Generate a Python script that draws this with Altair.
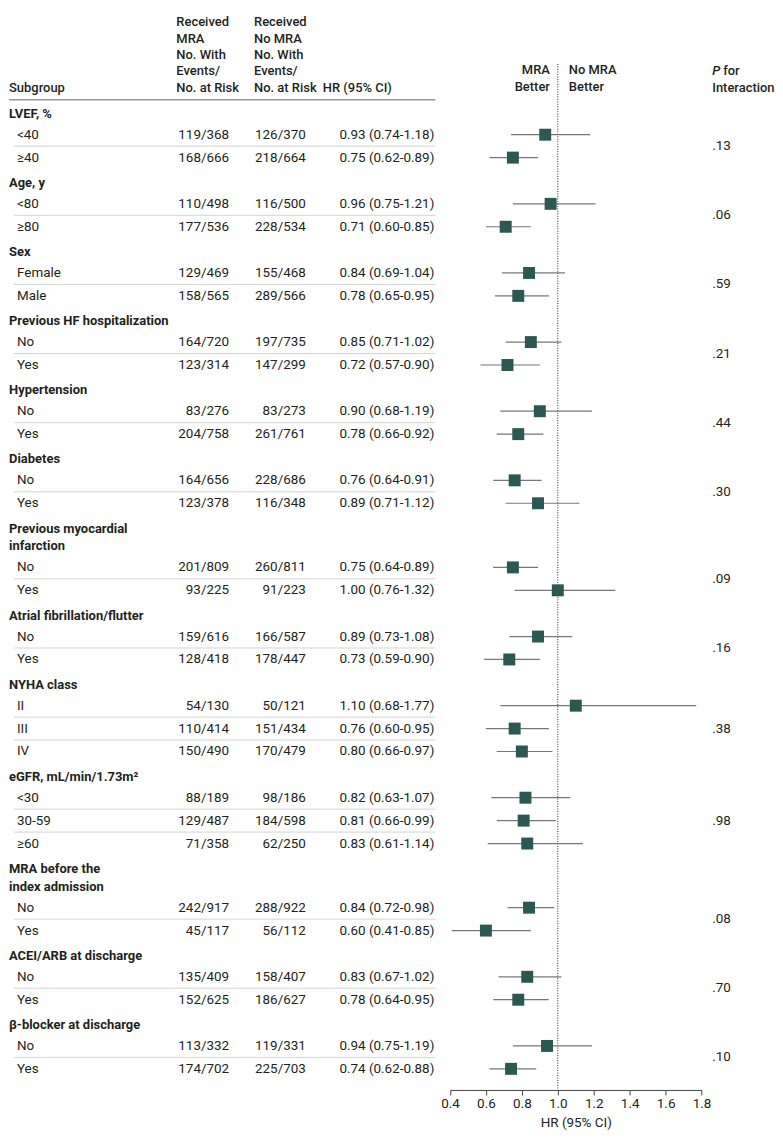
import altair as alt
import pandas as pd

# ---------------- data ----------------
groups = ["LVEF, %", "Age, y", "Sex", "Previous HF hospitalization", "Hypertension", "Diabetes",
          "Previous myocardial\ninfarction", "Atrial fibrillation/flutter", "NYHA class",
          "eGFR, mL/min/1.73m²", "MRA before the\nindex admission", "ACEI/ARB at discharge",
          "β-blocker at discharge"]
p_values = [".13", ".06", ".59", ".21", ".44", ".30", ".09", ".16", ".38", ".98", ".08", ".70", ".10"]
sub_labels = [["<40", "≥40"], ["<80", "≥80"], ["Female", "Male"], ["No", "Yes"], ["No", "Yes"],
              ["No", "Yes"], ["No", "Yes"], ["No", "Yes"], ["II", "III", "IV"],
              ["<30", "30-59", "≥60"], ["No", "Yes"], ["No", "Yes"], ["No", "Yes"]]
mra_events = [119, 168, 110, 177, 129, 158, 164, 123, 83, 204, 164, 123, 201, 93, 159, 128,
              54, 110, 150, 88, 129, 71, 242, 45, 135, 152, 113, 174]
mra_risk = [368, 666, 498, 536, 469, 565, 720, 314, 276, 758, 656, 378, 809, 225, 616, 418,
            130, 414, 490, 189, 487, 358, 917, 117, 409, 625, 332, 702]
nomra_events = [126, 218, 116, 228, 155, 289, 197, 147, 83, 261, 228, 116, 260, 91, 166, 178,
                50, 151, 170, 98, 184, 62, 288, 56, 158, 186, 119, 225]
nomra_risk = [370, 664, 500, 534, 468, 566, 735, 299, 273, 761, 686, 348, 811, 223, 587, 447,
              121, 434, 479, 186, 598, 250, 922, 112, 407, 627, 331, 703]
hr = [0.93, 0.75, 0.96, 0.71, 0.84, 0.78, 0.85, 0.72, 0.90, 0.78, 0.76, 0.89, 0.75, 1.00,
      0.89, 0.73, 1.10, 0.76, 0.80, 0.82, 0.81, 0.83, 0.84, 0.60, 0.83, 0.78, 0.94, 0.74]
ci_low = [0.74, 0.62, 0.75, 0.60, 0.69, 0.65, 0.71, 0.57, 0.68, 0.66, 0.64, 0.71, 0.64, 0.76,
          0.73, 0.59, 0.68, 0.60, 0.66, 0.63, 0.66, 0.61, 0.72, 0.41, 0.67, 0.64, 0.75, 0.62]
ci_high = [1.18, 0.89, 1.21, 0.85, 1.04, 0.95, 1.02, 0.90, 1.19, 0.92, 0.91, 1.12, 0.89, 1.32,
           1.08, 0.90, 1.77, 0.95, 0.97, 1.07, 0.99, 1.14, 0.98, 0.85, 1.02, 0.95, 1.19, 0.88]
x_ticks = [0.4, 0.6, 0.8, 1.0, 1.2, 1.4, 1.6, 1.8]
col_headers = ["Subgroup",
               "Received\nMRA\nNo. With\nEvents/\nNo. at Risk",
               "Received\nNo MRA\nNo. With\nEvents/\nNo. at Risk",
               "HR (95% CI)"]

# ---------------- layout ----------------
W, H = 767, 1084
FONT = "Roboto"
FS = 13.5
HFS = 13
TXT = "#231f20"
TOP = 104          # first group header
LINE2 = 18         # extra line in a wrapped group label
HEAD_TO_ITEM = 21
ITEM_STEP = 23
ITEM_TO_HEAD = 25.4
HDR_BOTTOM = 78
HDR_LH = 16.5

head_rows, item_rows, sep_rows, p_rows = [], [], [], []
y = TOP
k = 0
for gi, g in enumerate(groups):
    for li, line in enumerate(g.split("\n")):
        if li:
            y += LINE2
        head_rows.append({"y": y, "label": line})
    ys = []
    for si, lab in enumerate(sub_labels[gi]):
        y += HEAD_TO_ITEM if si == 0 else ITEM_STEP
        if si > 0:
            sep_rows.append({"y": y - ITEM_STEP / 2})
        ys.append(y)
        item_rows.append({
            "y": y, "label": lab,
            "mra": f"{mra_events[k]}/{mra_risk[k]}",
            "nomra": f"{nomra_events[k]}/{nomra_risk[k]}",
            "hrtxt": f"{hr[k]:.2f} ({ci_low[k]:.2f}-{ci_high[k]:.2f})",
            "hr": hr[k], "lo": ci_low[k], "hi": ci_high[k],
        })
        k += 1
    p_rows.append({"y": sum(ys) / len(ys), "label": p_values[gi]})
    y += ITEM_TO_HEAD

heads = pd.DataFrame(head_rows)
items = pd.DataFrame(item_rows)
seps = pd.DataFrame(sep_rows)
pdf = pd.DataFrame(p_rows)

yscale = alt.Scale(domain=[0, H], range=[0, H])
xscale = alt.Scale(domain=[0.4, 1.8], range=[442.7, 695.3])
AX = alt.Axis(values=x_ticks, format=".1f", title="HR (95% CI)", grid=False, tickSize=5,
              labelFontSize=FS, titleFontSize=FS, titleFontWeight="normal", labelFont=FONT,
              titleFont=FONT, domainColor="#444", tickColor="#444", labelColor=TXT,
              titleColor=TXT, labelPadding=2, titlePadding=5, labelFlush=False)


def Y():
    return alt.Y("y:Q", scale=yscale, axis=None)


def txt(df, field, x, align="left", weight="normal", style="normal", size=FS):
    return alt.Chart(df).mark_text(align=align, baseline="middle", font=FONT, fontSize=size,
                                   fontWeight=weight, fontStyle=style, color=TXT).encode(
        x=alt.value(x), y=Y(), text=alt.Text(f"{field}:N"))


def lines_df(text, bottom):
    ls = text.split("\n")
    n = len(ls)
    return pd.DataFrame({"y": [bottom - (n - 1 - i) * HDR_LH for i in range(n)], "label": ls})


HW = 500
layers = []
# column headers
for text, x in zip(col_headers, [0, 168, 246, 315]):
    layers.append(txt(lines_df(text, HDR_BOTTOM), "label", x, weight=HW, size=HFS))
layers.append(txt(lines_df("MRA\nBetter", HDR_BOTTOM - 1), "label", 543, align="right",
                  weight=HW, size=HFS))
layers.append(txt(lines_df("No MRA\nBetter", HDR_BOTTOM - 1), "label", 562, weight=HW, size=HFS))
layers.append(txt(pd.DataFrame({"y": [HDR_BOTTOM - HDR_LH], "label": ["P"]}), "label", 706,
                  weight=HW, style="italic", size=HFS))
layers.append(txt(pd.DataFrame({"y": [HDR_BOTTOM - HDR_LH], "label": ["for"]}), "label", 717,
                  weight=HW, size=HFS))
layers.append(txt(pd.DataFrame({"y": [HDR_BOTTOM], "label": ["Interaction"]}), "label", 706,
                  weight=HW, size=HFS))

# header rule and separators
layers.append(alt.Chart(pd.DataFrame({"y": [90]})).mark_rule(color="#666", strokeWidth=1).encode(
    x=alt.value(0), x2=alt.value(428), y=Y()))
layers.append(alt.Chart(seps).mark_rule(color="#d4d4d4", strokeWidth=1).encode(
    x=alt.value(5), x2=alt.value(428), y=Y()))

# table text
layers.append(txt(heads, "label", 0, weight="bold", size=HFS))
layers.append(txt(items, "label", 8))
layers.append(txt(items, "mra", 221, align="right"))
layers.append(txt(items, "nomra", 298, align="right"))
layers.append(txt(items, "hrtxt", 427, align="right"))
layers.append(txt(pdf, "label", 706))

# forest plot
layers.append(alt.Chart(pd.DataFrame({"hr": [1.0]})).mark_rule(
    strokeDash=[1, 1.5], color="#222", strokeWidth=1).encode(
    x=alt.X("hr:Q", scale=xscale, axis=AX), y=alt.value(54), y2=alt.value(H)))
layers.append(alt.Chart(items).mark_rule(color="#777", strokeWidth=1.2).encode(
    x=alt.X("lo:Q", scale=xscale, axis=AX), x2="hi:Q", y=Y()))
layers.append(alt.Chart(items).mark_square(size=144, color="#2c5853", opacity=1).encode(
    x=alt.X("hr:Q", scale=xscale, axis=AX), y=Y()))

chart = alt.layer(*layers).properties(
    width=W, height=H, padding={"left": 0, "top": 0, "right": 0, "bottom": 0}
).configure_view(stroke=None)

chart.save("out.html", embed_options={"renderer": "svg", "actions": False})
